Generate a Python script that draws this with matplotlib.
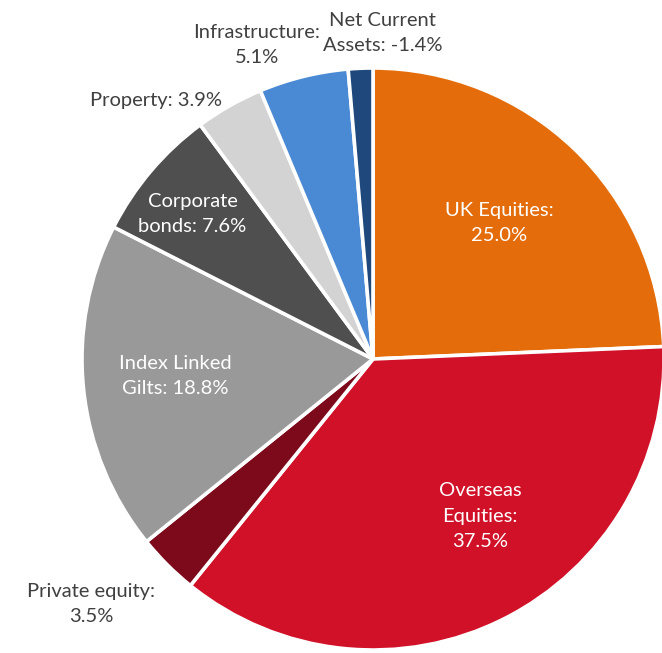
import matplotlib
matplotlib.use("Agg")
import matplotlib.pyplot as plt

plt.rcParams['font.family'] = ['Lato', 'DejaVu Sans']

# asset allocation (%), clockwise from 12 o'clock
names = ['UK Equities', 'Overseas Equities', 'Private equity', 'Index Linked Gilts',
         'Corporate bonds', 'Property', 'Infrastructure', 'Net Current Assets']
values = [25.0, 37.5, 3.5, 18.8, 7.6, 3.9, 5.1, -1.4]
labels = ['UK Equities:\n25.0%', 'Overseas\nEquities:\n37.5%', 'Private equity:\n3.5%',
          'Index Linked\nGilts: 18.8%', 'Corporate\nbonds: 7.6%', 'Property: 3.9%',
          'Infrastructure:\n5.1%', 'Net Current\nAssets: -1.4%']
colors = ['#E46C0A', '#D01128', '#7D0A1B', '#999999', '#4F4F4F', '#D3D3D3', '#4A89D4', '#1F497D']

# label positions (data coords) and text colour
label_pos = [(0.433, 0.467), (0.368, -0.54), (-0.969, -0.842), (-0.68, -0.058),
             (-0.62, 0.498), (-0.746, 0.887), (-0.399, 1.079), (0.034, 1.12)]
label_col = ['white', 'white', '#404040', 'white', 'white', '#404040', '#404040', '#404040']

W, H = 662, 653
cx, cy, r = 373, 359, 291

fig = plt.figure(figsize=(W / 100, H / 100), dpi=100)
ax = fig.add_axes([(cx - r) / W, (H - cy - r) / H, 2 * r / W, 2 * r / H])
ax.pie([abs(v) for v in values], colors=colors, startangle=90, counterclock=False,
       radius=1, wedgeprops=dict(edgecolor='white', linewidth=2.6))
ax.set_xlim(-1, 1)
ax.set_ylim(-1, 1)
ax.set_aspect('auto')
ax.axis('off')

for lab, (x, y), c in zip(labels, label_pos, label_col):
    ax.text(x, y, lab, ha='center', va='center', color=c, fontsize=14.5,
            linespacing=1.62, clip_on=False)

fig.savefig('out.png', dpi=100)
